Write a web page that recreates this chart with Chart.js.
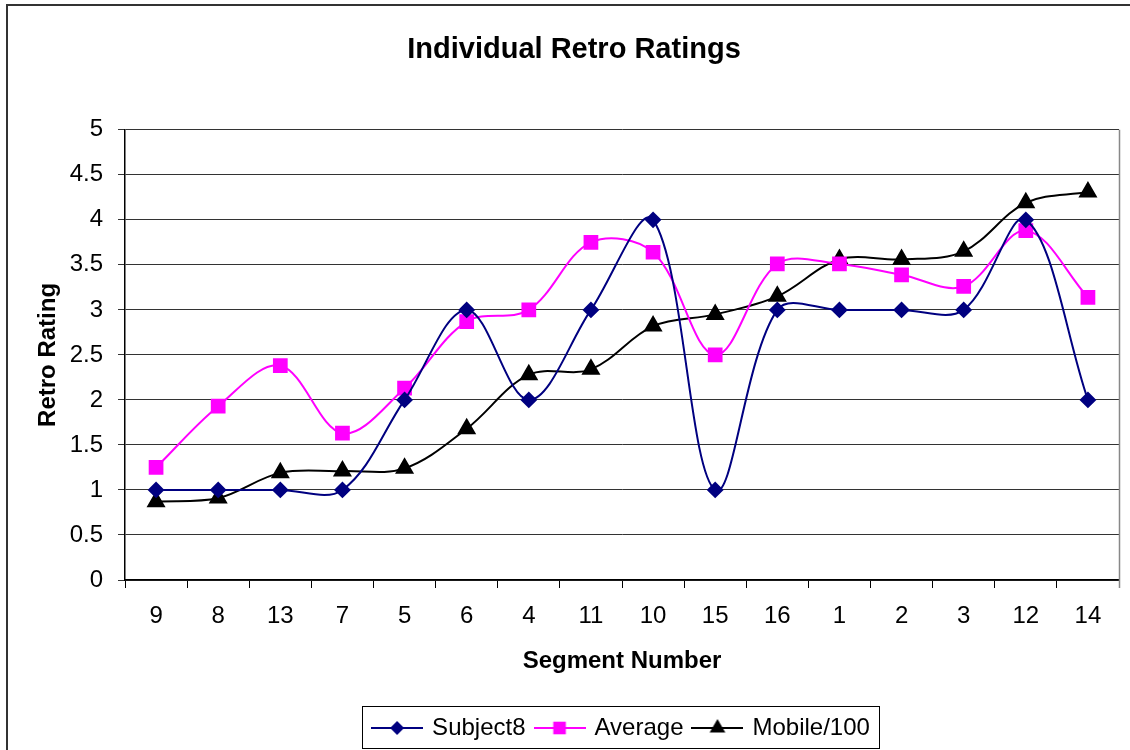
<!DOCTYPE html>
<html lang="en">

<head>
    <meta charset="UTF-8">
    <title>Individual Retro Ratings</title>
    <script src="https://cdn.jsdelivr.net/npm/chart.js"></script>
    <style>
        body { margin: 0; background: #fff; }
        canvas { display: block; }
    </style>
</head>

<body>
    <canvas id="retroChart" width="1130" height="750"></canvas>
    <script>
        const segments = ["9", "8", "13", "7", "5", "6", "4", "11", "10", "15", "16", "1", "2", "3", "12", "14"];
        const subject8 = [1, 1, 1, 1, 2, 3, 2, 3, 4, 1, 3, 3, 3, 3, 4, 2];
        const average = [1.25, 1.93, 2.38, 1.63, 2.13, 2.87, 3.0, 3.75, 3.64, 2.5, 3.51, 3.51, 3.39, 3.26, 3.88, 3.14];
        const mobile100 = [0.87, 0.91, 1.19, 1.21, 1.24, 1.68, 2.28, 2.34, 2.82, 2.95, 3.15, 3.56, 3.56, 3.65, 4.19, 4.31];

        const fontFamily = "'Liberation Sans', Arial, sans-serif";

        // small line+marker sample used as the legend symbol
        function legendSymbol(color, style, radius) {
            const c = document.createElement("canvas");
            c.width = 52; c.height = 20;
            const g = c.getContext("2d");
            g.strokeStyle = color; g.fillStyle = color; g.lineWidth = 2;
            g.beginPath(); g.moveTo(0, 10); g.lineTo(52, 10); g.stroke();
            g.beginPath();
            if (style === "rectRot") {
                g.moveTo(26, 10 - radius); g.lineTo(26 + radius, 10); g.lineTo(26, 10 + radius); g.lineTo(26 - radius, 10);
            } else if (style === "rect") {
                g.rect(26 - radius * 0.7, 10 - radius * 0.7, radius * 1.4, radius * 1.4);
            } else {
                g.moveTo(26, 10 - radius); g.lineTo(26 + radius * 0.87, 10 + radius * 0.5); g.lineTo(26 - radius * 0.87, 10 + radius * 0.5);
            }
            g.closePath(); g.fill();
            return c;
        }

        const frameAndBox = {
            id: "frameAndBox",
            afterDraw(chart) {
                const ctx = chart.ctx;
                const area = chart.chartArea;
                ctx.save();
                // outer chart frame
                ctx.strokeStyle = "#333";
                ctx.lineWidth = 2;
                ctx.beginPath();
                ctx.moveTo(7, 760); ctx.lineTo(7, 5); ctx.lineTo(1140, 5);
                ctx.stroke();
                // right edge of the plot area
                ctx.strokeStyle = "#888";
                ctx.lineWidth = 1.5;
                ctx.beginPath();
                ctx.moveTo(area.right + 0.5, area.top); ctx.lineTo(area.right + 0.5, area.bottom + 8);
                ctx.stroke();
                // legend border
                const boxes = chart.legend.legendHitBoxes;
                if (boxes && boxes.length) {
                    const left = Math.min(...boxes.map(b => b.left)) - 12;
                    const right = Math.max(...boxes.map(b => b.left + b.width)) + 9;
                    ctx.strokeStyle = "#000";
                    ctx.lineWidth = 1;
                    ctx.strokeRect(Math.round(left) + 0.5, chart.legend.top + 1.5, Math.round(right - left), chart.legend.height - 3);
                }
                ctx.restore();
            }
        };

        const symbols = [
            legendSymbol("#000080", "rectRot", 7),
            legendSymbol("#FF00FF", "rect", 9),
            legendSymbol("#000000", "triangle", 9)
        ];

        const ctx = document.getElementById("retroChart").getContext("2d");
        const retroChart = new Chart(ctx, {
            type: "line",
            data: {
                labels: segments,
                datasets: [
                    { label: "Subject8", data: subject8, borderColor: "#000080", backgroundColor: "#000080", borderWidth: 2, pointStyle: "rectRot", pointRadius: 7, pointHoverRadius: 7, tension: 0.35 },
                    { label: "Average", data: average, borderColor: "#FF00FF", backgroundColor: "#FF00FF", borderWidth: 2, pointStyle: "rect", pointRadius: 9, pointHoverRadius: 9, tension: 0.35 },
                    { label: "Mobile/100", data: mobile100, borderColor: "#000000", backgroundColor: "#000000", borderWidth: 2, pointStyle: "triangle", pointRadius: 9, pointHoverRadius: 9, tension: 0.35 }
                ]
            },
            options: {
                responsive: false,
                animation: false,
                devicePixelRatio: 1,
                layout: { padding: { left: 27, right: 9, top: 0, bottom: 0 } },
                plugins: {
                    title: {
                        display: true,
                        text: "Individual Retro Ratings",
                        color: "#000",
                        font: { family: fontFamily, size: 29, weight: "bold" },
                        padding: { top: 33, bottom: 62 }
                    },
                    legend: {
                        position: "bottom",
                        fullSize: false,
                        labels: {
                            color: "#000",
                            font: { family: fontFamily, size: 24 },
                            usePointStyle: true,
                            pointStyleWidth: 46,
                            padding: 11,
                            generateLabels(chart) {
                                return chart.data.datasets.map((ds, i) => ({
                                    text: ds.label,
                                    pointStyle: symbols[i],
                                    fillStyle: ds.backgroundColor,
                                    strokeStyle: ds.borderColor,
                                    lineWidth: 0,
                                    datasetIndex: i,
                                    hidden: false
                                }));
                            }
                        }
                    },
                    tooltip: { enabled: false }
                },
                scales: {
                    x: {
                        offset: true,
                        afterFit(scale) { scale.height = 125; },
                        grid: { offset: true, drawOnChartArea: false, drawTicks: true, tickLength: 8, color: "#000" },
                        border: { color: "#000", width: 1.5 },
                        ticks: { color: "#000", font: { family: fontFamily, size: 24 }, padding: 14, maxRotation: 0, autoSkip: false },
                        title: {
                            display: true,
                            text: "Segment Number",
                            color: "#000",
                            font: { family: fontFamily, size: 24, weight: "bold" },
                            padding: { top: 29, bottom: 29 }
                        }
                    },
                    y: {
                        min: 0,
                        max: 5,
                        afterFit(scale) { scale.width = 98; },
                        grid: { color: "#333", lineWidth: 1, tickLength: 7 },
                        border: { color: "#000", width: 1.5 },
                        ticks: {
                            stepSize: 0.5,
                            color: "#000",
                            font: { family: fontFamily, size: 24 },
                            padding: 15,
                            callback: (value) => String(Number(value))
                        },
                        title: {
                            display: true,
                            text: "Retro Rating",
                            color: "#000",
                            font: { family: fontFamily, size: 24, weight: "bold" },
                            padding: { top: 7, bottom: 7 }
                        }
                    }
                }
            },
            plugins: [frameAndBox]
        });
    </script>
</body>

</html>
